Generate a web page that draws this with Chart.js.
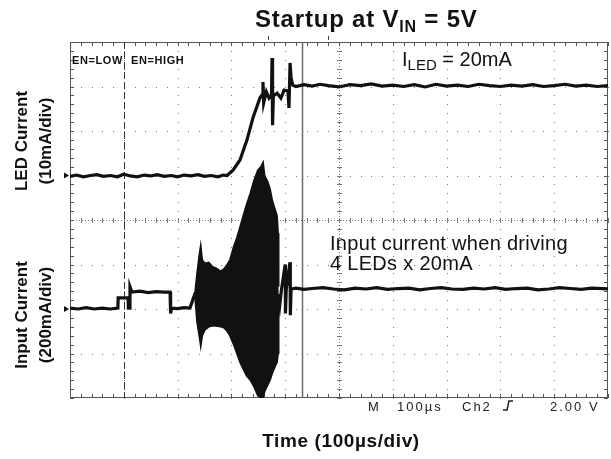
<!DOCTYPE html>
<html>
<head>
<meta charset="utf-8">
<title>Startup at VIN = 5V</title>
<script src="https://cdn.jsdelivr.net/npm/chart.js@4.4.1/dist/chart.umd.min.js"></script>
<style>
  body { margin: 0; background: #fff; }
</style>
</head>
<body>
<canvas id="scope" width="611" height="459"></canvas>
<script>
// time in divisions (100us/div), amplitude in divisions (center line = 0)
const ledTime = [0, 0.12, 0.25, 0.38, 0.5, 0.62, 0.75, 0.88, 1.0, 1.12, 1.25, 1.38, 1.5, 1.62, 1.75, 1.88, 2.0, 2.12, 2.25, 2.38, 2.5, 2.62, 2.75, 2.85, 2.92,
  3.03, 3.16, 3.29, 3.40, 3.53, 3.57, 3.587, 3.60, 3.65, 3.70, 3.745, 3.755, 3.765, 3.78, 3.85, 3.92, 3.98, 4.05, 4.07, 4.09, 4.11, 4.14, 4.2,
  4.35, 4.5, 4.65, 4.8, 5.0, 5.2, 5.4, 5.6, 5.8, 6.0, 6.2, 6.4, 6.6, 6.8, 7.0, 7.2, 7.4, 7.6, 7.8, 8.0, 8.2, 8.4, 8.6, 8.8, 9.0, 9.2, 9.4, 9.6, 9.8, 10];
const ledCurrent = [0.98, 1.01, 0.97, 1.0, 1.02, 0.98, 1.0, 0.97, 1.03, 0.99, 0.97, 1.01, 0.99, 1.02, 0.98, 1.0, 0.97, 1.01, 0.99, 1.02, 0.98, 1.0, 0.97, 1.01, 1.0,
  1.12, 1.35, 1.80, 2.29, 2.74, 2.81, 3.10, 2.63, 2.88, 2.74, 2.81, 3.64, 2.13, 2.79, 2.85, 2.74, 2.92, 2.90, 2.52, 3.53, 3.19, 3.03, 3.0,
  3.04, 3.01, 3.05, 3.02, 2.99, 3.04, 3.02, 3.06, 3.01, 3.03, 3.0, 3.04, 2.99, 3.05, 3.01, 3.03, 3.0, 3.05, 3.02, 3.0, 3.03, 3.01, 3.04, 3.0, 3.02, 3.05, 3.01, 3.03, 3.0, 3.02];

const inTime = [0, 0.15, 0.3, 0.45, 0.6, 0.75, 0.89, 0.895, 1.08, 1.085, 1.11, 1.115, 1.15, 1.3, 1.45, 1.6, 1.75, 1.86, 1.87, 1.89, 2.0, 2.12, 2.23, 2.32,
  3.88, 3.90, 3.93, 4.0, 4.005, 4.02, 4.09, 4.095, 4.11, 4.2, 4.35, 4.5, 4.7, 4.9, 5.1, 5.3, 5.5, 5.7, 5.9, 6.1, 6.3, 6.5, 6.7, 6.9, 7.1, 7.3, 7.5, 7.7, 7.9, 8.1, 8.3, 8.5, 8.7, 8.9, 9.1, 9.3, 9.5, 9.7, 10];
const inCurrent = [-1.98, -2.0, -1.97, -2.0, -1.98, -2.0, -1.98, -1.75, -1.75, -1.98, -1.98, -1.5, -1.62, -1.6, -1.63, -1.61, -1.62, -1.62, -2.1, -1.98, -1.99, -1.97, -1.98, -1.66,
  -1.7, -1.9, -1.57, -1.0, -2.1, -1.55, -0.95, -2.14, -1.55, -1.53, -1.56, -1.54, -1.52, -1.55, -1.57, -1.53, -1.55, -1.52, -1.56, -1.54, -1.53, -1.57, -1.54, -1.52, -1.55, -1.56, -1.53, -1.55, -1.52, -1.56, -1.54, -1.53, -1.57, -1.55, -1.52, -1.54, -1.56, -1.53, -1.55];

// switching burst envelope on the input current
const burstTime = [2.32, 2.36, 2.40, 2.43, 2.46, 2.51, 2.58, 2.65, 2.72, 2.80, 2.86, 2.92, 2.97, 3.04, 3.10, 3.16, 3.22, 3.28, 3.35, 3.42, 3.49, 3.55, 3.59, 3.62, 3.68, 3.72, 3.76, 3.81, 3.85, 3.87, 3.88];
const burstTop = [-1.66, -1.2, -0.8, -0.56, -0.9, -0.97, -0.95, -1.05, -1.08, -1.15, -1.1, -1.0, -0.9, -0.6, -0.4, -0.15, 0.1, 0.35, 0.6, 0.9, 1.12, 1.2, 1.3, 1.0, 0.85, 0.7, 0.45, 0.25, 0.1, -0.3, -1.5];
const burstBottom = [-1.7, -2.3, -2.6, -2.85, -2.6, -2.47, -2.4, -2.38, -2.38, -2.4, -2.42, -2.5, -2.6, -2.8, -3.0, -3.2, -3.35, -3.5, -3.6, -3.75, -3.95, -4.0, -4.0, -3.85, -3.7, -3.6, -3.45, -3.3, -3.2, -3.0, -1.7];

const enEdge = 1.0;      // EN low -> high, dashed marker
const cursorTime = 4.31; // vertical cursor
const ledMarker = 1.0, inMarker = -2.0;

const FONT = "'Liberation Sans', Arial, Helvetica, sans-serif";

function pts(t, v) { return t.map((x, i) => ({ x: x, y: v[i] })); }

function subText(ctx, x, y, parts) {
  parts.forEach(p => {
    ctx.font = p[1];
    ctx.fillText(p[0], x, y + (p[2] || 0));
    x += ctx.measureText(p[0]).width;
  });
}

const scopePlugin = {
  id: 'scope',
  beforeDatasetsDraw(chart) {
    const ctx = chart.ctx, xs = chart.scales.x, ys = chart.scales.y;
    const a = chart.chartArea;
    ctx.save();
    // dotted graticule
    ctx.fillStyle = '#7a7a7a';
    for (let i = 1; i < 10; i++) {
      if (i === 5) continue;
      const px = Math.round(xs.getPixelForValue(i));
      for (let k = 0; k <= 40; k++) {
        const py = Math.round(ys.getPixelForValue(-4 + k * 0.2));
        ctx.fillRect(px, py, 1, 1);
      }
    }
    for (let j = -3; j <= 3; j++) {
      if (j === 0) continue;
      const py = Math.round(ys.getPixelForValue(j));
      for (let k = 0; k <= 50; k++) {
        const px = Math.round(xs.getPixelForValue(k * 0.2));
        ctx.fillRect(px, py, 1, 1);
      }
    }
    // center crosshair with minor ticks
    const cx = Math.round(xs.getPixelForValue(5)), cy = Math.round(ys.getPixelForValue(0));
    for (let k = 0; k <= 40; k++) {
      const py = Math.round(ys.getPixelForValue(-4 + k * 0.2));
      ctx.fillRect(cx - 2, py, 5, 1);
    }
    for (let k = 0; k <= 50; k++) {
      const px = Math.round(xs.getPixelForValue(k * 0.2));
      ctx.fillRect(px, cy - 2, 1, 5);
    }
    for (let py = a.top; py < a.bottom; py += 3) ctx.fillRect(cx, py, 1, 1);
    for (let px = a.left; px < a.right; px += 3) ctx.fillRect(px, cy, 1, 1);
    // border ticks
    ctx.fillStyle = '#555';
    for (let k = 0; k <= 50; k++) {
      const px = Math.round(xs.getPixelForValue(k * 0.2));
      ctx.fillRect(px, a.top, 1, 4);
      ctx.fillRect(px, a.bottom - 4, 1, 4);
    }
    for (let k = 0; k <= 40; k++) {
      const py = Math.round(ys.getPixelForValue(-4 + k * 0.2));
      ctx.fillRect(a.left, py, 4, 1);
      ctx.fillRect(a.right - 4, py, 4, 1);
    }
    // frame
    ctx.strokeStyle = '#555';
    ctx.lineWidth = 1;
    ctx.strokeRect(a.left + 0.5, a.top + 0.5, a.right - a.left - 1, a.bottom - a.top - 1);
    // EN edge dashed line
    const ex = Math.round(xs.getPixelForValue(enEdge)) + 0.5;
    ctx.strokeStyle = '#333';
    ctx.setLineDash([7, 3]);
    ctx.beginPath(); ctx.moveTo(ex, a.top); ctx.lineTo(ex, a.bottom); ctx.stroke();
    ctx.setLineDash([]);
    // cursor
    const kx = Math.round(xs.getPixelForValue(cursorTime)) + 0.5;
    ctx.strokeStyle = '#6a6a6a';
    ctx.lineWidth = 1.5;
    ctx.beginPath(); ctx.moveTo(kx, a.top); ctx.lineTo(kx, a.bottom); ctx.stroke();
    // trigger marks above the frame
    ctx.fillStyle = '#444';
    ctx.fillRect(268, a.top - 6, 1, 4);
    ctx.fillRect(328, a.top - 6, 1, 4);
    ctx.restore();
  },
  afterDatasetsDraw(chart) {
    const ctx = chart.ctx, ys = chart.scales.y;
    const a = chart.chartArea;
    ctx.save();
    ctx.fillStyle = '#111';
    ctx.textBaseline = 'alphabetic';
    // channel markers at the left edge
    [ledMarker, inMarker].forEach(v => {
      const py = ys.getPixelForValue(v);
      ctx.beginPath();
      ctx.moveTo(a.left - 6, py - 3); ctx.lineTo(a.left - 1, py); ctx.lineTo(a.left - 6, py + 3);
      ctx.closePath(); ctx.fill();
    });
    // title
    ctx.letterSpacing = '0.8px';
    subText(ctx, 255, 27, [['Startup at V', 'bold 24px ' + FONT], ['IN', 'bold 16px ' + FONT, 5], [' = 5V', 'bold 24px ' + FONT]]);
    ctx.letterSpacing = '0px';
    // in-plot notes
    ctx.font = 'bold 11px ' + FONT;
    ctx.letterSpacing = '0.6px';
    ctx.fillText('EN=LOW', 72, 64);
    ctx.fillText('EN=HIGH', 131, 64);
    ctx.letterSpacing = '0px';
    subText(ctx, 402, 66, [['I', '20px ' + FONT], ['LED', '15px ' + FONT, 4], [' = 20mA', '20px ' + FONT]]);
    ctx.font = '20px ' + FONT;
    ctx.letterSpacing = '0.3px';
    ctx.fillText('Input current when driving', 330, 250);
    ctx.fillText('4 LEDs x 20mA', 330, 270);
    ctx.letterSpacing = '0px';
    // scope status line
    ctx.fillStyle = '#222';
    ctx.font = '13px ' + FONT;
    ctx.letterSpacing = '2px';
    ctx.fillText('M', 368, 411);
    ctx.fillText('100\u00b5s', 397, 411);
    ctx.fillText('Ch2', 462, 411);
    ctx.fillText('2.00 V', 550, 411);
    ctx.letterSpacing = '0px';
    ctx.strokeStyle = '#222';
    ctx.lineWidth = 1.5;
    ctx.beginPath();
    ctx.moveTo(503, 410); ctx.lineTo(507, 410); ctx.lineTo(509, 401); ctx.lineTo(513, 401);
    ctx.stroke();
    // axis titles
    ctx.fillStyle = '#111';
    ctx.textAlign = 'center';
    ctx.font = 'bold 19px ' + FONT;
    ctx.letterSpacing = '0.6px';
    ctx.fillText('Time (100\u00b5s/div)', 341, 447);
    ctx.font = 'bold 17px ' + FONT;
    ctx.letterSpacing = '0px';
    [['LED Current', 27, 141], ['(10mA/div)', 51, 141], ['Input Current', 27, 315], ['(200mA/div)', 51, 315]].forEach(l => {
      ctx.save();
      ctx.translate(l[1], l[2]);
      ctx.rotate(-Math.PI / 2);
      ctx.fillText(l[0], 0, 0);
      ctx.restore();
    });
    ctx.restore();
  }
};

new Chart(document.getElementById('scope'), {
  type: 'line',
  data: {
    datasets: [
      { data: pts(ledTime, ledCurrent), borderColor: '#111', borderWidth: 3.2, tension: 0 },
      { data: pts(inTime, inCurrent), borderColor: '#111', borderWidth: 3.2, tension: 0 },
      { data: pts(burstTime, burstTop), borderColor: '#111', backgroundColor: '#111', borderWidth: 1.5, fill: '+1' },
      { data: pts(burstTime, burstBottom), borderColor: '#111', borderWidth: 1.5, fill: false }
    ]
  },
  options: {
    responsive: false,
    animation: false,
    devicePixelRatio: 1,
    layout: { padding: { left: 70, right: 3, top: 42, bottom: 61 } },
    elements: { point: { radius: 0 } },
    plugins: { legend: { display: false }, tooltip: { enabled: false }, title: { display: false } },
    scales: {
      x: { type: 'linear', min: 0, max: 10, display: false },
      y: { type: 'linear', min: -4, max: 4, display: false }
    }
  },
  plugins: [scopePlugin]
});
</script>
</body>
</html>
